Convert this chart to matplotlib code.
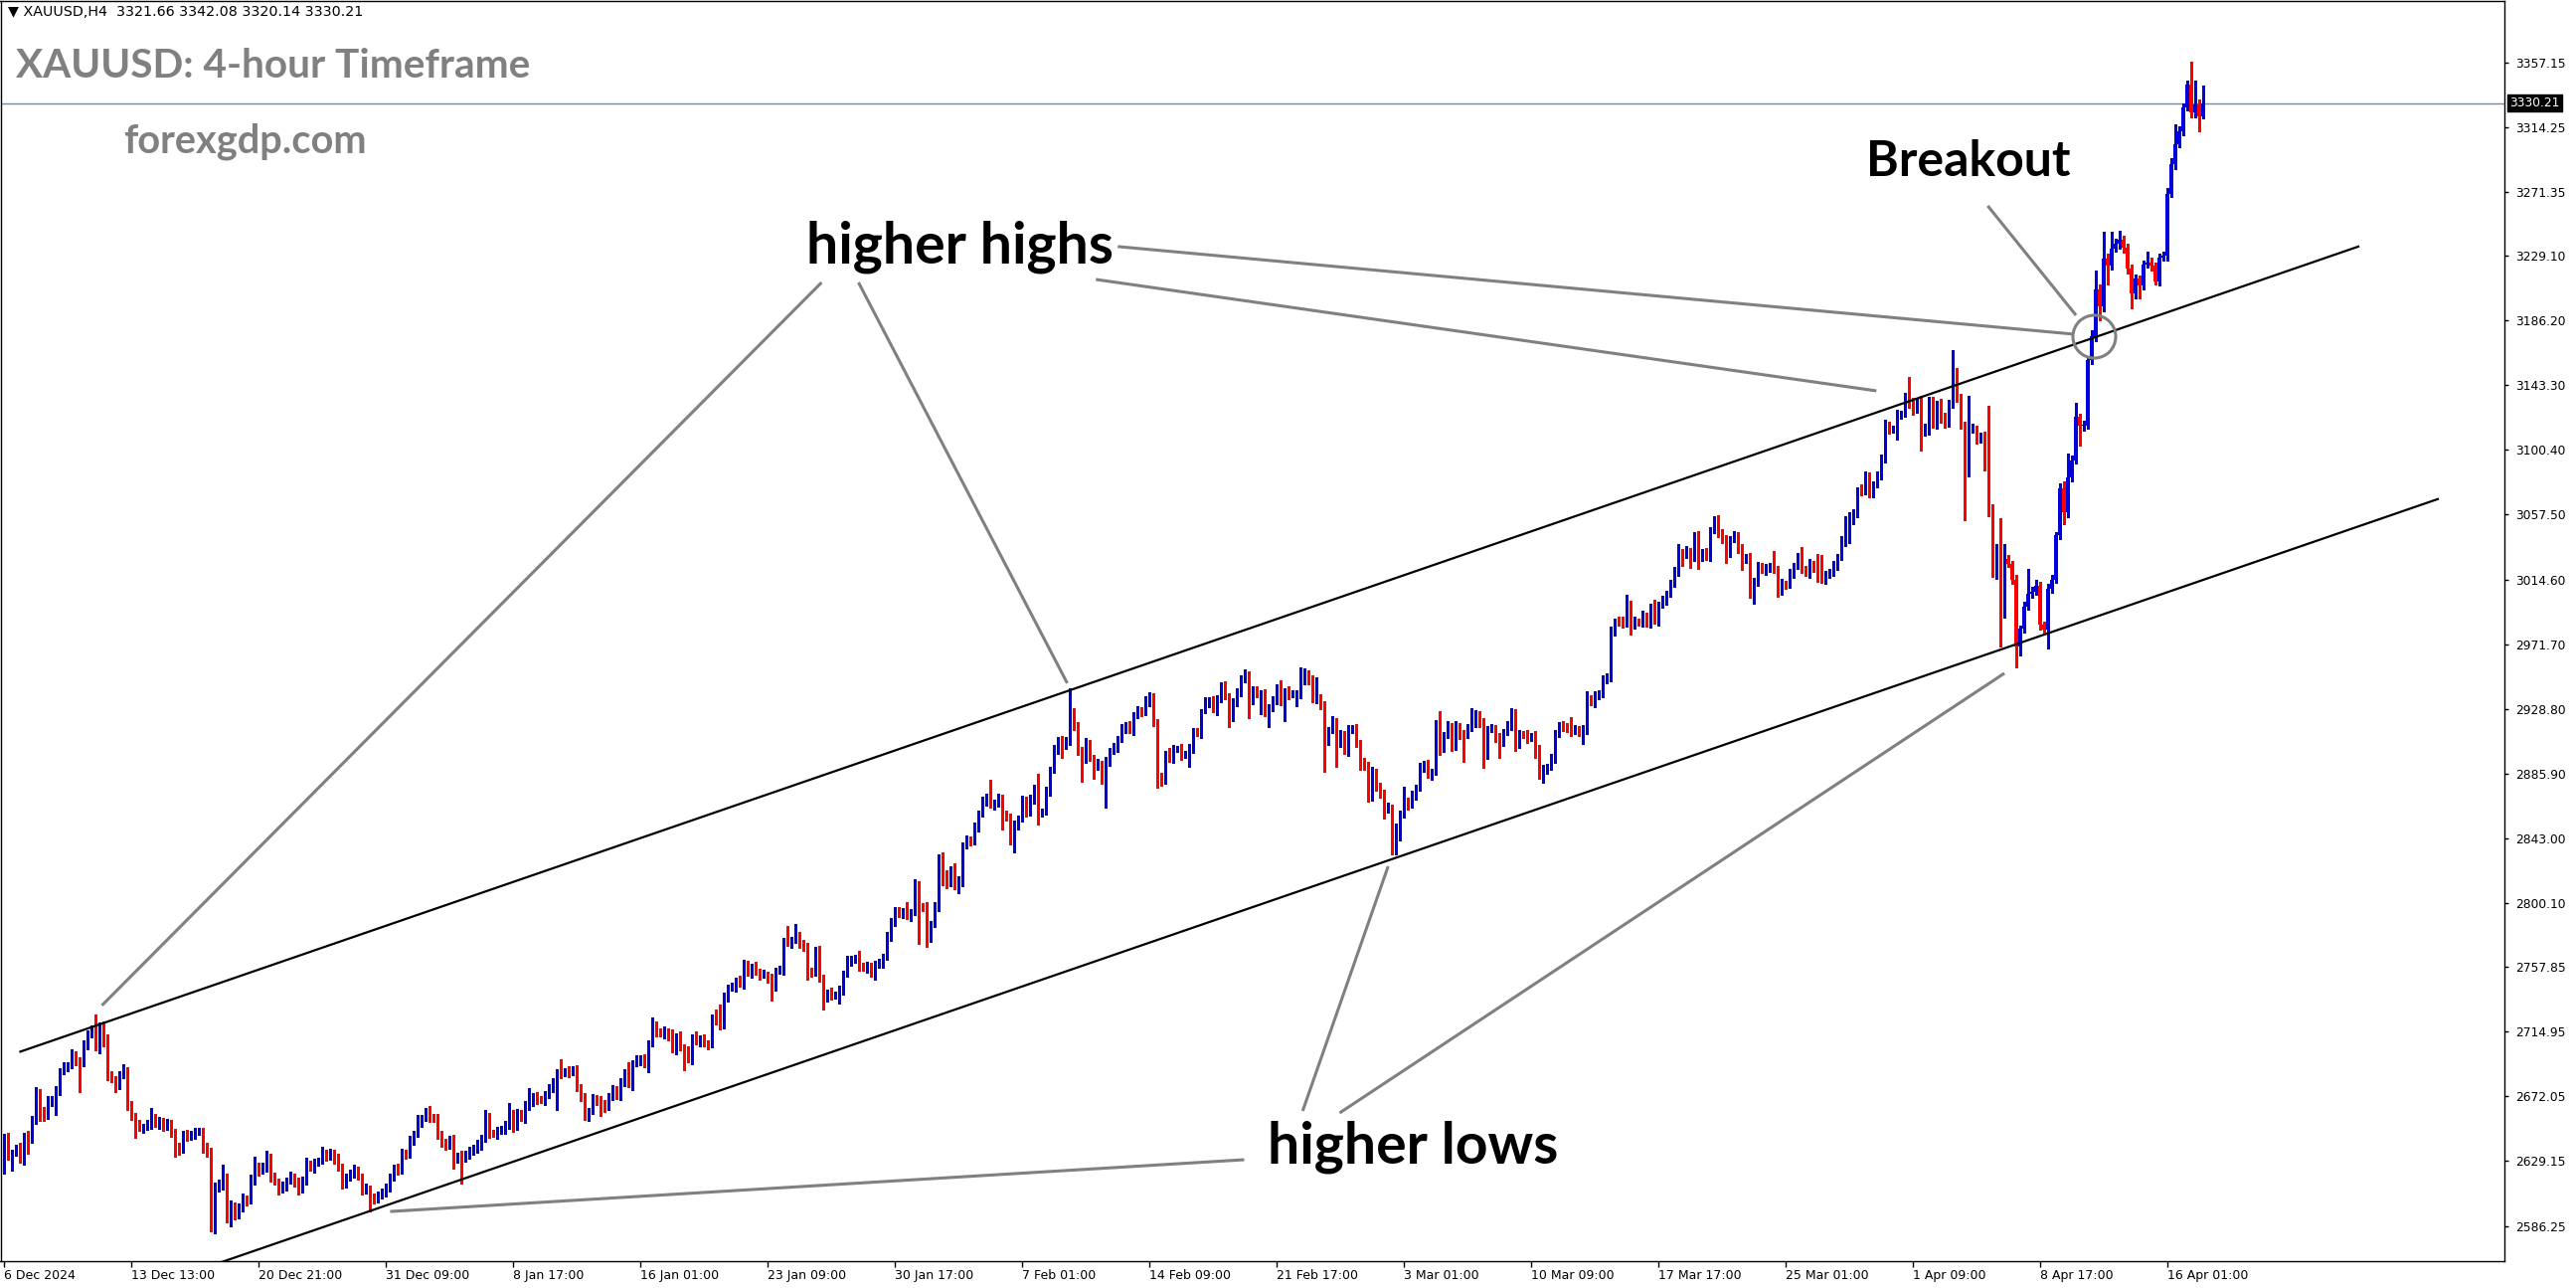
import numpy as np
import matplotlib
matplotlib.use("Agg")
import matplotlib.pyplot as plt

# XAUUSD H4 candles, 6 Dec 2024 .. 17 Apr 2025 (closes)
first_open = 2624
closes = [
    2645, 2633, 2635, 2637, 2631, 2646, 2643, 2657, 2674, 2663, 2659, 2669, 2670, 2676, 2689, 2692, 2693, 2699, 2696, 2694,
    2706, 2714, 2716, 2705.5, 2719, 2711, 2685.7, 2683.5, 2679.8, 2686, 2689.4, 2666, 2659.3, 2653.8, 2651.2, 2652, 2653.4, 2658.2, 2653.8, 2655.6,
    2652, 2654.3, 2648.3, 2638, 2636.7, 2647.2, 2645.5, 2647.2, 2648.3, 2649, 2638, 2636.3, 2584.6, 2611.7, 2613.2, 2619.8, 2591.9, 2600, 2593.4, 2597.8,
    2604.4, 2602.9, 2616.9, 2625.9, 2622.6, 2625.3, 2631.9, 2618.7, 2615.4, 2610.3, 2612.5, 2616.5, 2619.1, 2615.4, 2610.3, 2616.9, 2627.5, 2624.8, 2627.9, 2629.2,
    2634.7, 2632.3, 2634.5, 2630.8, 2625.7, 2614.7, 2618.2, 2621.3, 2623.5, 2618.7, 2609.9, 2611, 2605, 2604, 2607.3, 2608, 2612.1, 2618.2, 2624.8, 2623.1,
    2634.5, 2633.6, 2642.9, 2647.2, 2655, 2657.8, 2662.6, 2658.2, 2657.1, 2647.2, 2641, 2639.5, 2643.9, 2631.1, 2632.9, 2631.1, 2634, 2635.5, 2638, 2640,
    2644.3, 2658.2, 2647.6, 2647, 2649, 2650.5, 2652.7, 2660.8, 2652.7, 2660.8, 2657.7, 2665.9, 2667.4, 2672, 2670.3, 2669.6, 2672.9, 2677.9, 2681.2, 2687.8,
    2687.2, 2688.9, 2687.8, 2690, 2678.4, 2671.3, 2658.6, 2662.6, 2670.9, 2669.1, 2665.9, 2664.8, 2672.5, 2676.8, 2672.5, 2681.2, 2687.8, 2681.2, 2694, 2696,
    2697, 2693.3, 2707.2, 2718.6, 2714.8, 2713.7, 2715.3, 2711.5, 2703.2, 2712, 2704.7, 2702.1, 2696.6, 2710.9, 2708.3, 2710.2, 2707, 2706.5, 2724.5, 2723,
    2719.2, 2737.7, 2743.9, 2744.5, 2748.9, 2746.5, 2759.7, 2753.7, 2757, 2754.8, 2752.6, 2752.8, 2750.4, 2745.4, 2755.3, 2755.7, 2774, 2773.5, 2775.7, 2778.3,
    2773.5, 2770.7, 2755.5, 2754.2, 2768, 2750.9, 2736.6, 2740.1, 2739, 2739.3, 2742.5, 2753.3, 2761.9, 2762.5, 2763.6, 2758.4, 2757, 2758.5, 2752.6, 2759.2,
    2760.3, 2764.7, 2778.3, 2788.2, 2794.8, 2793.2, 2794.8, 2791.5, 2794.3, 2811.9, 2798.3, 2797.6, 2777.2, 2786, 2797.6, 2830.6, 2820.1, 2813, 2821.4, 2812.4,
    2814.6, 2838.3, 2842.2, 2841.1, 2850.8, 2859.2, 2867.5, 2870.6, 2865.1, 2866.9, 2869.7, 2858.1, 2857.6, 2840.9, 2852.1, 2855.9, 2868.4, 2860.3, 2869, 2875.6,
    2860.3, 2860.7, 2874.1, 2888.2, 2902, 2907.9, 2904.2, 2907.9, 2918.5, 2916.9, 2901.6, 2895.8, 2905.3, 2896.5, 2891.7, 2892.6, 2882.2, 2894.3, 2900.9, 2903.5,
    2908.6, 2915.8, 2918, 2914.5, 2924.4, 2927.9, 2926.8, 2933.9, 2936.1, 2920.2, 2883.3, 2882.2, 2899.1, 2895.8, 2902, 2902.4, 2898.1, 2898.7, 2902.4, 2913,
    2912.6, 2927.9, 2933.2, 2934.5, 2928.4, 2936.1, 2944.2, 2937.2, 2924, 2932.8, 2940.4, 2948.1, 2951.9, 2935, 2941.1, 2938.3, 2938.9, 2928.8, 2930.1, 2933.9,
    2942, 2934.5, 2940.5, 2938.3, 2938.4, 2938.9, 2947.1, 2952.6, 2948.2, 2935.4, 2936.8, 2930.6, 2908.2, 2914.8, 2920.7, 2906.4, 2911.9, 2900.9, 2914.8, 2915.9,
    2906.4, 2893.2, 2891.5, 2871.3, 2887.1, 2876.8, 2873, 2862.9, 2863.6, 2833.3, 2844.9, 2858.5, 2868, 2865.1, 2871.7, 2876.8, 2890, 2892.1, 2884.9, 2887.1,
    2914.1, 2903.1, 2911.3, 2917.4, 2903.8, 2917.4, 2911.9, 2911.5, 2917, 2918.5, 2925.1, 2919.6, 2898.7, 2915.7, 2915.9, 2909.7, 2907.5, 2913.5, 2917.9, 2926.6,
    2905.8, 2911.9, 2911.5, 2909.3, 2910.8, 2903.1, 2885.6, 2888.9, 2890.4, 2895.9, 2911.9, 2917.9, 2917.4, 2915.2, 2914.1, 2915.2, 2913.7, 2915.2, 2935.6, 2933.2,
    2937.2, 2939.4, 2947.7, 2950.4, 2979.6, 2988.4, 2987.1, 2985.5, 2998.7, 2985.1, 2986.6, 2986, 2990.6, 2985.5, 2995.4, 2987.3, 2997.6, 3000.5, 3004.9, 3011.4,
    3020, 3032.8, 3031.7, 3033.4, 3029, 3043.7, 3029.5, 3032.5, 3029.5, 3047, 3048.8, 3045.9, 3040.9, 3032.2, 3041.5, 3043.7, 3034.9, 3027.7, 3029.4, 3005.7,
    3013.6, 3023.3, 3020.6, 3021.7, 3023.5, 3021.7, 3006.4, 3011.8, 3011.2, 3018.4, 3023.3, 3028.8, 3021.7, 3018.9, 3025, 3021.7, 3017.8, 3015.6, 3018.4, 3018.8,
    3023.9, 3029.4, 3040, 3040.4, 3054, 3058, 3073.4, 3073, 3083.3, 3072.3, 3076.7, 3083.9, 3094.3, 3116.2, 3114, 3114.5, 3123.9, 3124.3, 3134.9, 3131.6,
    3127, 3133.2, 3112.9, 3113.6, 3132.7, 3117.3, 3131, 3121.7, 3118, 3131.6, 3153.6, 3134.5, 3117.3, 3085.5, 3114, 3114.5, 3107.4, 3108.5, 3089.9, 3061.3,
    3025.1, 3028, 2992, 3028, 3024.6, 3014.5, 2970, 2982.2, 2996.5, 3005.3, 3006.4, 3010.1, 2984.4, 2981.1, 3008.6, 3014.5, 3044.2, 3075.2, 3059.1, 3082.2,
    3093.6, 3122.4, 3116.2, 3116.7, 3160.2, 3175.5, 3206.9, 3195.2, 3227.1, 3222.7, 3233.7, 3237, 3239.6, 3234.1, 3220.5, 3204, 3213.9, 3209.5, 3223.1, 3224.5,
    3222.3, 3212.2, 3227.5, 3228.9, 3269.9, 3289.7, 3302.9, 3311.7, 3327.1, 3342.4, 3323.8, 3329.3, 3321.66, 3330.21,
]
# wick lengths above / below the body, in dollars
wick_up = [
    2, 3, 2, 3, 4, 2, 3, 2, 4, 3, 2, 3, 2, 3, 2, 3, 2, 4, 3, 2,
    3, 2, 3, 10, 2, 3, 2, 3, 2, 3, 4, 2, 3, 2, 3, 2, 3, 6, 2, 3,
    2, 3, 2, 2, 3, 2, 3, 2, 3, 2, 2, 3, 2, 3, 4, 7, 1, 3, 2, 3,
    3, 2, 3, 6, 2, 3, 4, 2, 3, 2, 3, 2, 3, 2, 3, 2, 4, 2, 3, 2,
    4, 2, 3, 2, 3, 2, 3, 2, 3, 2, 2, 3, 2, 3, 2, 3, 2, 3, 2, 3,
    3, 2, 3, 2, 5, 2, 2, 3, 2, 3, 2, 3, 2, 3, 2, 3, 2, 3, 2, 3,
    2, 5, 3, 2, 3, 2, 3, 7, 2, 3, 2, 3, 10, 2, 3, 2, 3, 2, 3, 2,
    9, 2, 3, 2, 3, 2, 3, 2, 3, 2, 3, 4, 2, 3, 2, 3, 2, 7, 2, 3,
    2, 3, 2, 6, 3, 2, 3, 2, 5, 2, 3, 2, 3, 2, 4, 2, 3, 2, 2, 5,
    10, 3, 2, 3, 2, 3, 3, 2, 3, 4, 2, 3, 2, 3, 2, 3, 3, 11, 2, 8,
    3, 2, 3, 2, 3, 4, 2, 3, 4, 2, 3, 2, 3, 3, 2, 5, 2, 3, 2, 3,
    3, 2, 3, 2, 3, 3, 2, 6, 2, 4, 3, 2, 3, 2, 3, 2, 3, 2, 3, 5,
    3, 2, 3, 2, 3, 2, 3, 2, 11, 2, 3, 2, 3, 2, 3, 2, 3, 2, 3, 3,
    10, 2, 3, 2, 3, 2, 3, 2, 24, 11, 3, 2, 4, 3, 2, 3, 2, 3, 2, 3,
    2, 3, 2, 3, 2, 3, 2, 3, 4, 3, 2, 3, 2, 4, 3, 2, 3, 2, 3, 3,
    3, 1, 3, 2, 3, 2, 2, 3, 2, 3, 2, 3, 3, 2, 3, 3, 2, 3, 2, 3,
    3, 6, 2, 3, 3, 2, 9, 3, 2, 3, 13, 2, 3, 2, 3, 2, 3, 2, 3, 2,
    3, 2, 3, 2, 3, 2, 3, 2, 3, 2, 8, 3, 9, 2, 3, 2, 3, 2, 3, 2,
    7, 13, 2, 3, 2, 3, 2, 3, 2, 11, 3, 2, 3, 2, 3, 2, 3, 2, 3, 3,
    2, 3, 2, 3, 2, 3, 2, 3, 2, 3, 3, 2, 3, 2, 8, 3, 2, 3, 5, 2,
    3, 2, 3, 2, 4, 0.5, 1.5, 3, 5.5, 2, 3, 2, 3, 2, 3, 6, 2, 3, 2, 3,
    3, 5, 2, 3, 2, 2, 3, 2, 3, 2, 7.5, 8, 2, 3, 2, 3, 2, 3, 2, 2.5,
    2, 3, 2, 3, 2, 10, 2, 3, 2, 3, 2, 3, 7, 2, 3, 2, 10, 13, 2, 3,
    3, 2, 3, 16, 5, 3, 2, 4, 3, 2, 3, 2, 3, 4, 3, 2, 3, 2, 3, 14,
    3, 2, 3, 4, 3, 3, 2, 3, 3, 2, 13, 1, 3, 2, 22, 3, 2, 3, 4, 40,
    3, 10, 27, 10, 3, 2, 3, 2, 3, 16, 3, 4, 3, 2, 3, 3, 2, 3, 4, 16,
    3, 9, 2, 3, 2, 4, 12, 3, 18, 3, 11, 3, 6, 3, 3, 3, 3, 2, 3, 7,
    3, 2, 3, 3, 4, 4, 13, 3, 3, 3, 15, 16, 3, 11.87,
]
wick_dn = [
    3, 3, 10, 2, 3, 4, 9, 2, 3, 7, 3, 2, 3, 10, 3, 2, 3, 2, 3, 19,
    2, 3, 3, 3, 5, 6, 3, 2, 5, 3, 2, 3, 3, 9, 2, 3, 2, 3, 2, 3,
    3, 2, 3, 6, 3, 2, 3, 2, 3, 2, 3, 4, 2, 3, 3, 3, 3, 6, 3, 2,
    2, 3, 2, 3, 3, 2, 3, 3, 2, 3, 2, 3, 2, 3, 3, 2, 3, 2, 3, 2,
    2, 3, 2, 3, 3, 4, 3, 2, 3, 2, 3, 2, 9, 3, 2, 3, 2, 3, 2, 3,
    2, 3, 2, 3, 2, 3, 2, 3, 2, 3, 2, 3, 2, 7, 3, 17, 2, 3, 2, 3,
    3, 2, 3, 2, 3, 2, 3, 2, 4, 3, 2, 3, 3, 2, 3, 2, 3, 2, 3, 18,
    3, 2, 3, 2, 3, 2, 2, 3, 2, 3, 7, 3, 2, 3, 2, 3, 2, 3, 5, 2,
    3, 2, 5, 2, 3, 2, 3, 2, 2, 3, 2, 13, 2, 3, 2, 3, 2, 3, 2, 3,
    3, 2, 3, 2, 3, 2, 3, 2, 3, 2, 3, 2, 3, 10, 3, 2, 3, 2, 3, 2,
    3, 2, 6, 3, 2, 3, 7, 2, 3, 2, 6, 3, 2, 3, 2, 3, 2, 3, 1, 3,
    2, 3, 2, 3, 3, 2, 3, 2, 3, 2, 25, 3, 6, 3, 2, 3, 8, 3, 2, 3,
    6, 3, 2, 3, 2, 3, 2, 3, 2, 3, 3, 9, 3, 2, 7, 3, 2, 3, 2, 3,
    8, 3, 2, 3, 2, 3, 8, 2, 3, 2, 3, 15, 3, 2, 9, 3, 3, 19, 3, 2,
    3, 2, 3, 2, 3, 2, 3, 2, 3, 3, 7, 4, 3, 2, 3, 2, 3, 2, 8, 3,
    2, 3, 2, 3, 2, 4, 3, 2, 7, 3, 2, 3, 2, 12, 3, 2, 13, 5, 12, 3,
    2, 3, 14, 3, 2, 8, 3, 2, 3, 2, 3, 2, 21, 3, 2, 16, 3, 2, 3, 2,
    3, 5, 3, 4, 3, 2, 3, 7, 3, 1, 1, 3, 2, 3, 2, 3, 2, 3, 2, 3,
    2, 5, 3, 2, 3, 2, 3, 18, 2, 3, 2, 3, 9, 3, 2, 3, 11, 3, 2, 3,
    5, 3, 2, 3, 2, 7, 3, 6, 3, 2, 3, 2, 3, 2, 3, 2, 3, 8, 3, 2,
    3, 2, 3, 2, 3, 2, 3, 3, 2, 7, 3, 2, 3, 2, 3, 2, 3, 2, 3, 2,
    2, 3, 8, 3, 7, 2, 8, 3, 2, 3, 2, 3, 2, 7, 3, 2, 3, 7, 2, 3,
    7, 3, 2, 3, 2, 3, 3, 2, 3, 2, 3, 2, 3, 2, 3, 2, 5, 3, 4, 3,
    2, 3, 2, 3, 2, 3, 2, 3, 2, 3, 3, 1, 3, 2, 3, 2, 7, 3, 2, 3,
    3, 2, 13, 3, 3, 2, 3, 3, 3, 2, 3, 2, 3, 32, 3, 2, 3, 2, 3, 5,
    9, 10, 22, 3, 2, 3, 14, 6, 3, 2, 3, 2, 3, 2, 12, 3, 2, 3, 8, 3,
    3, 2, 13, 3, 2, 3, 3, 9, 3, 13, 3, 2, 3, 3, 3, 10, 3, 9, 3, 2,
    3, 2, 3, 2, 3, 2, 3, 2, 3, 2, 3, 3, 10, 1.52,
]

price_ticks = [2586.25, 2629.15, 2672.05, 2714.95, 2757.85, 2800.10, 2843.00, 2885.90, 2928.80,
               2971.70, 3014.60, 3057.50, 3100.40, 3143.30, 3186.20, 3229.10, 3271.35, 3314.25, 3357.15]
date_labels = ["6 Dec 2024", "13 Dec 13:00", "20 Dec 21:00", "31 Dec 09:00", "8 Jan 17:00", "16 Jan 01:00",
               "23 Jan 09:00", "30 Jan 17:00", "7 Feb 01:00", "14 Feb 09:00", "21 Feb 17:00", "3 Mar 01:00",
               "10 Mar 09:00", "17 Mar 17:00", "25 Mar 01:00", "1 Apr 09:00", "8 Apr 17:00", "16 Apr 01:00"]
bars_per_label = 32
last_price = 3330.21

# channel lines (bar index, price)
upper_line = [(4, 2701.7), (592, 3235.1)]
lower_line = [(50, 2558.1), (612, 3067.8)]

# annotation pointers (bar, price) -> (bar, price)
hh_lines = [((205.5, 3211.3), (24.5, 2732.3)),
            ((214.8, 3211.3), (267.3, 2945.8)),
            ((274.5, 3213.3), (470.8, 3139.5)),
            ((280.0, 3235.1), (520.3, 3177.1))]
hl_lines = [((311.8, 2630.1), (97.0, 2595.8)),
            ((326.5, 2662.4), (348.0, 2824.5)),
            ((335.8, 2661.1), (503.0, 2952.4))]
bo_line = ((498.8, 3262.1), (521.0, 3189.6))
bo_circle = (525.5, 3176.0)

W, H = 2591, 1295
fig = plt.figure(figsize=(W / 100, H / 100), dpi=100)
ax = fig.add_axes([0.5 / W, 1 - 1268 / H, 2518.5 / W, 1267 / H])
ax.set_xlim(-1, 628.75)
ax.set_ylim(2562.9, 3397.8)

closes = np.array(closes, dtype=float)
opens = np.r_[first_open, closes[:-1]]
top = np.maximum(opens, closes)
bot = np.minimum(opens, closes)
highs = top + np.array(wick_up)
lows = bot - np.array(wick_dn)
idx = np.arange(len(closes))
cols = np.where(closes >= opens, "#0000dc", "#ff0000")

ax.vlines(idx, lows, highs, colors=cols, lw=0.85, antialiased=False, zorder=2)
ax.bar(idx, np.maximum(top - bot, 0.6), bottom=bot, width=0.8, color=cols,
       linewidth=0, antialiased=False, zorder=3)

ax.axhline(last_price, color="#778899", lw=1, zorder=1)

for ln in (upper_line, lower_line):
    xs, ys = zip(*ln)
    ax.plot(xs, ys, color="black", lw=1.6, zorder=4)

grey = "#808080"
for a, b in hh_lines + hl_lines + [bo_line]:
    ax.plot([a[0], b[0]], [a[1], b[1]], color=grey, lw=2.2, solid_capstyle="butt", zorder=5)
ax.plot([bo_circle[0]], [bo_circle[1]], marker="o", ms=31, mfc="none", mec=grey, mew=2.2, zorder=5)

lab_font = ["Lato", "DejaVu Sans"]
ax.text(240.3, 3235.1, "higher highs", fontsize=41, fontweight="bold", family=lab_font,
        ha="center", va="center", zorder=6)
ax.text(354.3, 2638.7, "higher lows", fontsize=41, fontweight="bold", family=lab_font,
        ha="center", va="center", zorder=6)
ax.text(494.0, 3291.7, "Breakout", fontsize=36, fontweight="bold", family=lab_font,
        ha="center", va="center", zorder=6)

# axes styling (MT4 look)
for s in ax.spines.values():
    s.set_color("black")
    s.set_linewidth(1)
ax.yaxis.tick_right()
ax.set_yticks(price_ticks)
ax.set_yticklabels(["%.2f" % v for v in price_ticks])
ax.tick_params(axis="y", direction="out", length=3, width=1, pad=5, labelsize=8.8)

ax.set_xticks(np.arange(len(date_labels)) * bars_per_label)
ax.set_xticklabels(date_labels, ha="left", fontsize=9)
ax.tick_params(axis="x", direction="out", length=4, width=1, pad=2)

ax.annotate("%.2f" % last_price, xy=(1, last_price), xycoords=("axes fraction", "data"),
            xytext=(4, 0), textcoords="offset points", ha="left", va="center",
            color="white", fontsize=8.8,
            bbox=dict(boxstyle="square,pad=0.18", fc="black", ec="black"))

fig.text(8 / W, 1 - 12 / H, "\u25bc XAUUSD,H4  3321.66 3342.08 3320.14 3330.21",
         fontsize=10.3, ha="left", va="center")
fig.text(16 / W, 1 - 66 / H, "XAUUSD: 4-hour Timeframe", fontsize=29.2, fontweight="bold",
         color=grey, family=lab_font, ha="left", va="center")
fig.text(124 / W, 1 - 142 / H, "forexgdp.com", fontsize=28.6, fontweight="bold",
         color=grey, family=lab_font, ha="left", va="center")

fig.savefig("out.png", dpi=100)
